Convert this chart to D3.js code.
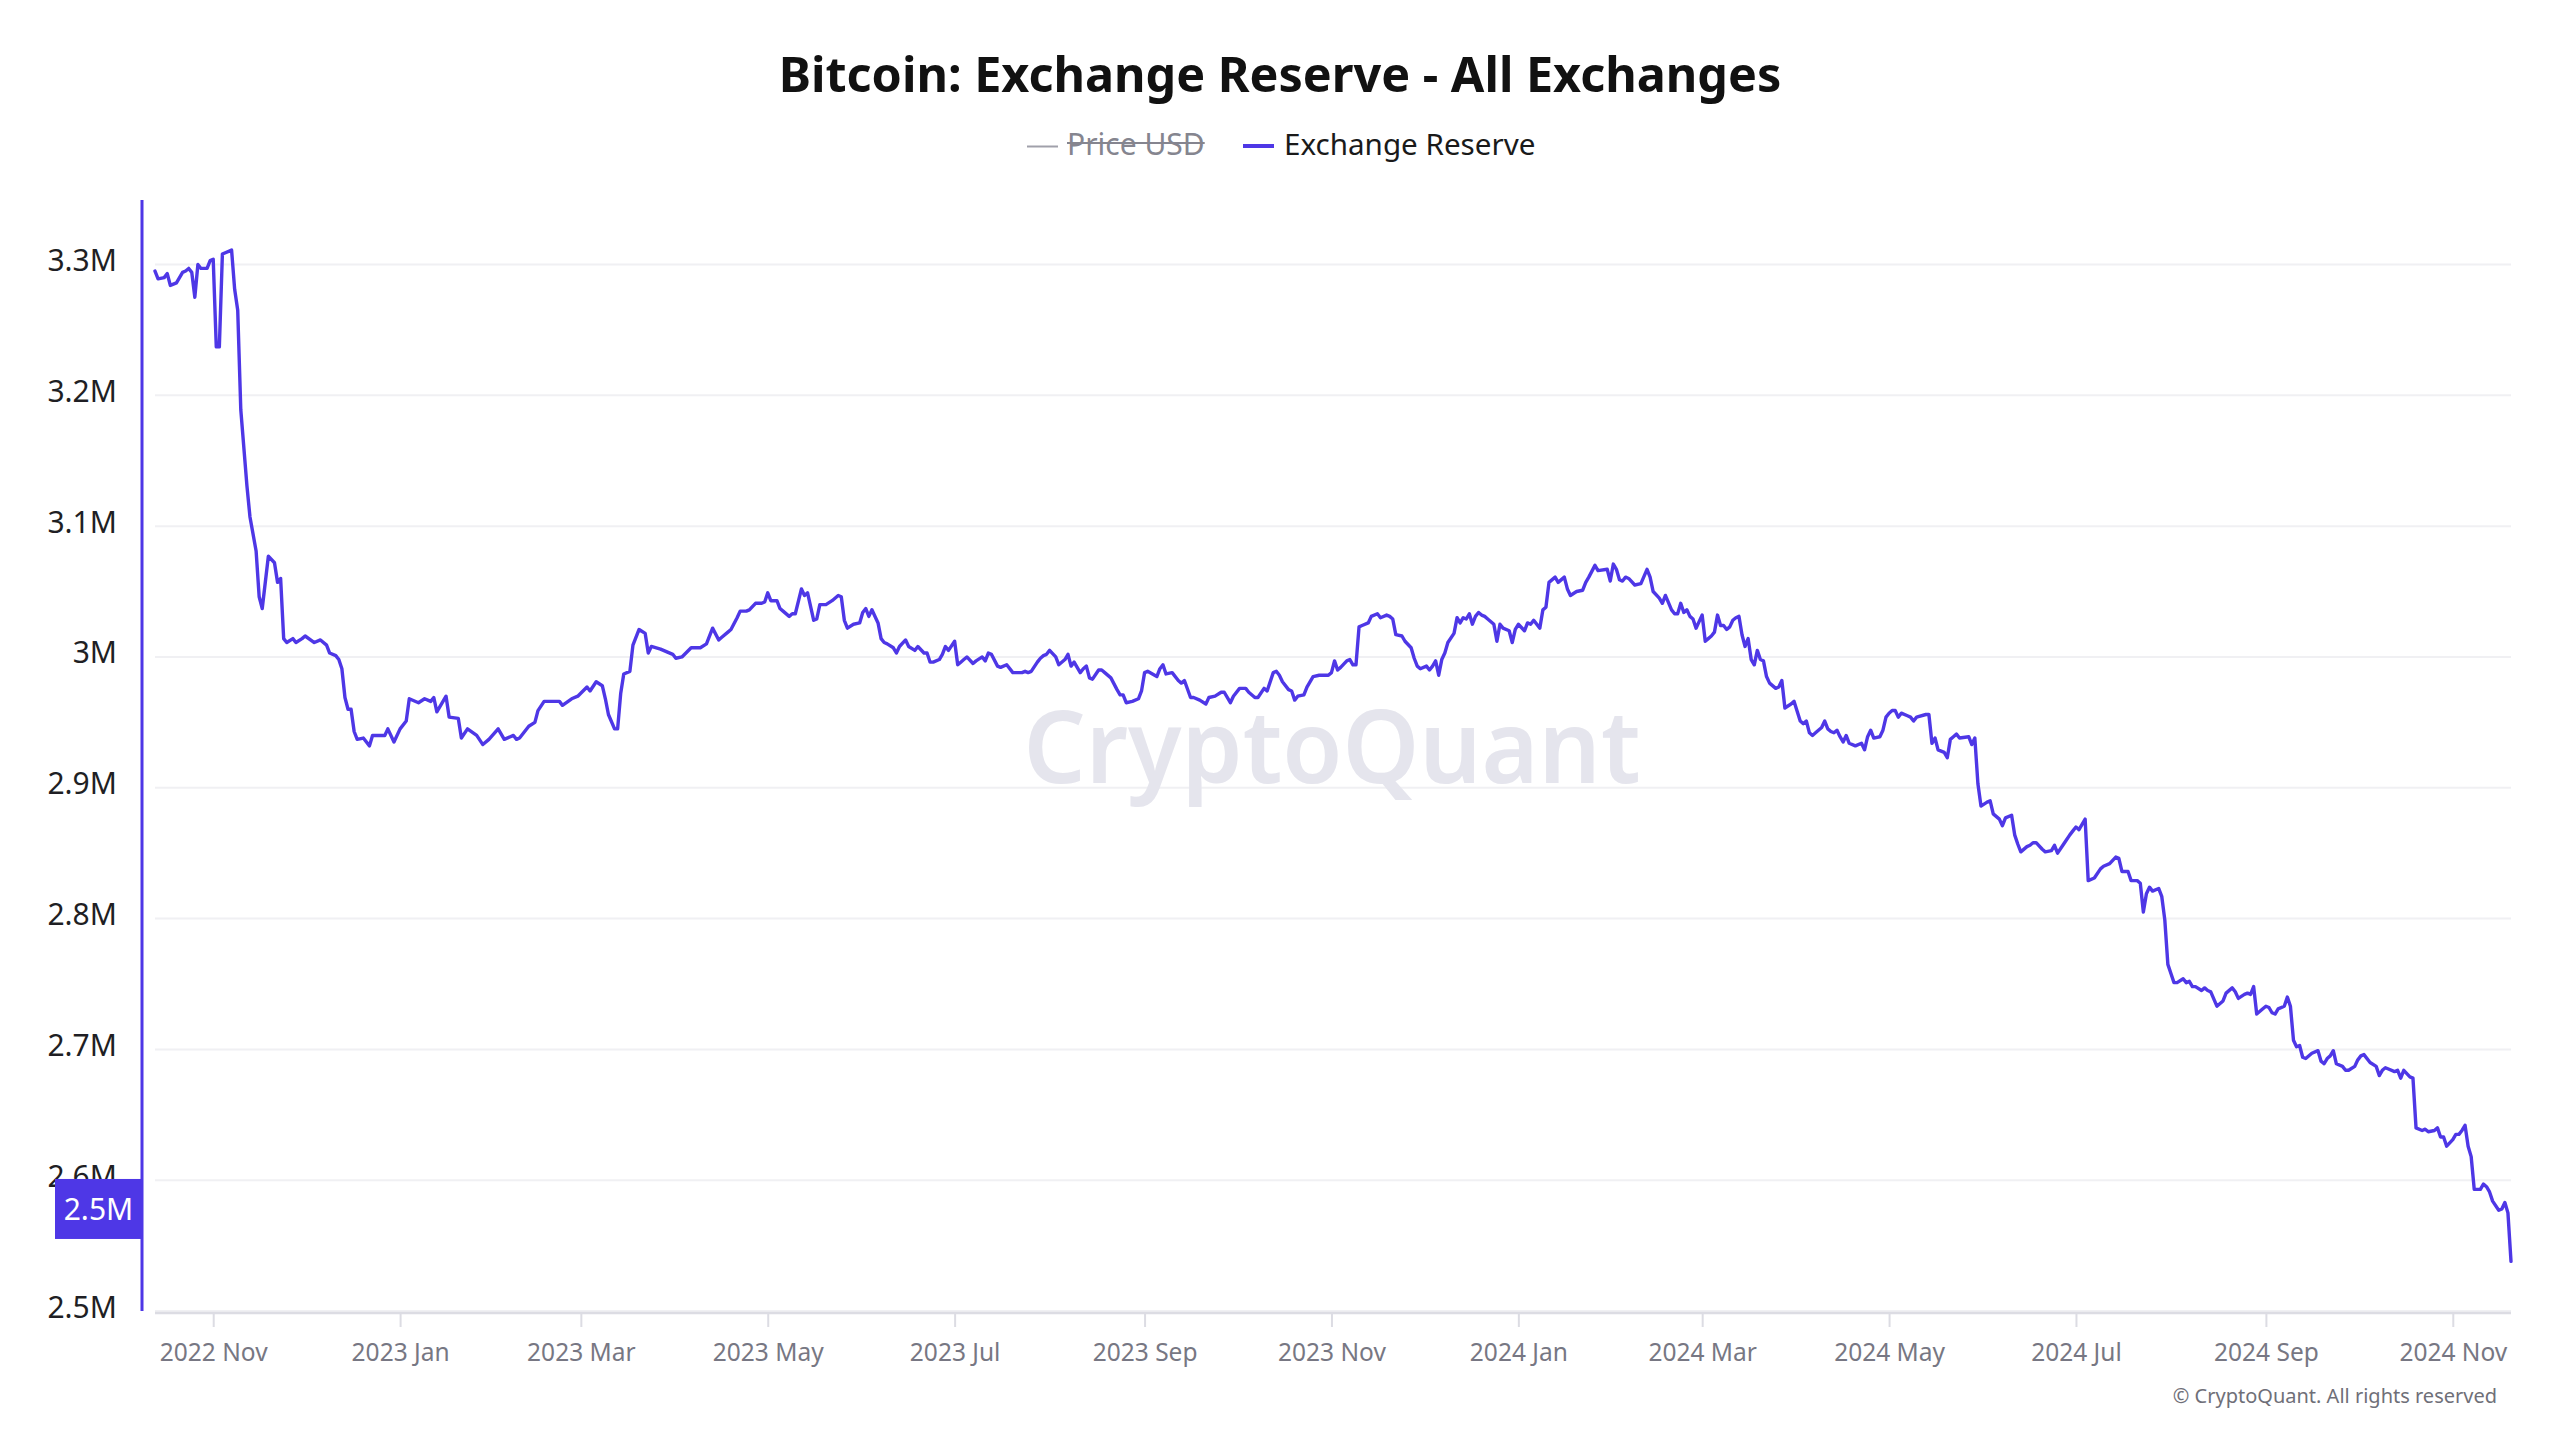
<!DOCTYPE html>
<html><head><meta charset="utf-8">
<script src="https://cdn.jsdelivr.net/npm/d3@7"></script>
<style>
html,body{margin:0;padding:0;background:#fff;}
svg{display:block;}
</style></head>
<body>
<svg id="chart" width="2560" height="1440"></svg>
<script>
// ---------------- DATA ----------------
const chartTitle = "Bitcoin: Exchange Reserve - All Exchanges";
const legendLabels = ["Price USD", "Exchange Reserve"];
const watermarkText = "CryptoQuant";
const copyrightText = "\u00A9 CryptoQuant. All rights reserved";
const yTickValues = [2.5, 2.6, 2.7, 2.8, 2.9, 3.0, 3.1, 3.2, 3.3]; // million BTC
const latestTagValue = 2.578;   // value of the price-tag on the axis (million BTC)
const latestTagText = "2.5M";

const dates = [
"2022-10-13","2022-10-14","2022-10-16","2022-10-17","2022-10-18","2022-10-20","2022-10-22","2022-10-23","2022-10-24","2022-10-25","2022-10-26","2022-10-27","2022-10-28","2022-10-30","2022-10-31",
"2022-11-01","2022-11-02","2022-11-03","2022-11-04","2022-11-07","2022-11-08","2022-11-09","2022-11-10","2022-11-12","2022-11-13","2022-11-15","2022-11-16","2022-11-17","2022-11-19","2022-11-21","2022-11-22","2022-11-23","2022-11-24","2022-11-25","2022-11-27","2022-11-28","2022-11-30",
"2022-12-01","2022-12-04","2022-12-06","2022-12-08","2022-12-09","2022-12-11","2022-12-12","2022-12-13","2022-12-14","2022-12-15","2022-12-16","2022-12-17","2022-12-18","2022-12-20","2022-12-22","2022-12-23","2022-12-27","2022-12-28","2022-12-30",
"2023-01-01","2023-01-03","2023-01-04","2023-01-07","2023-01-09","2023-01-11","2023-01-12","2023-01-13","2023-01-16","2023-01-17","2023-01-20","2023-01-21","2023-01-23","2023-01-26","2023-01-28","2023-01-30",
"2023-02-02","2023-02-04","2023-02-07","2023-02-08","2023-02-09","2023-02-12","2023-02-14","2023-02-15","2023-02-17","2023-02-19","2023-02-22","2023-02-23","2023-02-26","2023-02-28",
"2023-03-03","2023-03-04","2023-03-06","2023-03-08","2023-03-09","2023-03-10","2023-03-12","2023-03-13","2023-03-14","2023-03-15","2023-03-17","2023-03-18","2023-03-20","2023-03-22","2023-03-23","2023-03-24","2023-03-27","2023-03-31",
"2023-04-01","2023-04-03","2023-04-06","2023-04-09","2023-04-11","2023-04-13","2023-04-15","2023-04-16","2023-04-18","2023-04-19","2023-04-21","2023-04-22","2023-04-24","2023-04-25","2023-04-27","2023-04-29","2023-04-30",
"2023-05-01","2023-05-02","2023-05-04","2023-05-05","2023-05-06","2023-05-08","2023-05-09","2023-05-10","2023-05-12","2023-05-13","2023-05-14","2023-05-16","2023-05-17","2023-05-18","2023-05-20","2023-05-22","2023-05-24","2023-05-25","2023-05-26","2023-05-27","2023-05-29","2023-05-31",
"2023-06-01","2023-06-02","2023-06-03","2023-06-04","2023-06-06","2023-06-07","2023-06-08","2023-06-09","2023-06-11","2023-06-12","2023-06-13","2023-06-15","2023-06-16","2023-06-18","2023-06-19","2023-06-21","2023-06-22","2023-06-23","2023-06-24","2023-06-26","2023-06-27","2023-06-28","2023-06-29",
"2023-07-01","2023-07-02","2023-07-03","2023-07-04","2023-07-05","2023-07-07","2023-07-08","2023-07-10","2023-07-11","2023-07-12","2023-07-13","2023-07-15","2023-07-16","2023-07-18","2023-07-20","2023-07-21","2023-07-23","2023-07-24","2023-07-25","2023-07-26","2023-07-28","2023-07-29","2023-07-30","2023-07-31",
"2023-08-01","2023-08-03","2023-08-04","2023-08-06","2023-08-07","2023-08-08","2023-08-09","2023-08-11","2023-08-12","2023-08-13","2023-08-14","2023-08-15","2023-08-17","2023-08-18","2023-08-19","2023-08-21","2023-08-23","2023-08-24","2023-08-25","2023-08-26","2023-08-28","2023-08-30","2023-08-31",
"2023-09-01","2023-09-02","2023-09-05","2023-09-06","2023-09-07","2023-09-08","2023-09-10","2023-09-12","2023-09-13","2023-09-14","2023-09-16","2023-09-17","2023-09-19","2023-09-21","2023-09-22","2023-09-24","2023-09-26","2023-09-27","2023-09-29","2023-09-30",
"2023-10-02","2023-10-04","2023-10-05","2023-10-07","2023-10-08","2023-10-10","2023-10-11","2023-10-13","2023-10-14","2023-10-15","2023-10-16","2023-10-18","2023-10-19","2023-10-20","2023-10-21","2023-10-23","2023-10-24","2023-10-26","2023-10-28","2023-10-31",
"2023-11-01","2023-11-02","2023-11-03","2023-11-04","2023-11-06","2023-11-07","2023-11-08","2023-11-09","2023-11-10","2023-11-11","2023-11-13","2023-11-14","2023-11-16","2023-11-17","2023-11-19","2023-11-20","2023-11-21","2023-11-22","2023-11-24","2023-11-25","2023-11-27","2023-11-28","2023-11-29","2023-11-30",
"2023-12-02","2023-12-03","2023-12-04","2023-12-05","2023-12-06","2023-12-07","2023-12-08","2023-12-09","2023-12-11","2023-12-12","2023-12-13","2023-12-14","2023-12-15","2023-12-16","2023-12-17","2023-12-18","2023-12-19","2023-12-20","2023-12-21","2023-12-22","2023-12-24","2023-12-25","2023-12-26","2023-12-27","2023-12-29","2023-12-30","2023-12-31",
"2024-01-01","2024-01-03","2024-01-04","2024-01-05","2024-01-06","2024-01-08","2024-01-09","2024-01-10","2024-01-11","2024-01-13","2024-01-14","2024-01-16","2024-01-17","2024-01-18","2024-01-20","2024-01-22","2024-01-23","2024-01-24","2024-01-26","2024-01-27","2024-01-30","2024-01-31",
"2024-02-01","2024-02-02","2024-02-03","2024-02-04","2024-02-05","2024-02-06","2024-02-08","2024-02-10","2024-02-12","2024-02-13","2024-02-14","2024-02-16","2024-02-17","2024-02-18","2024-02-20","2024-02-21","2024-02-22","2024-02-23","2024-02-24","2024-02-25","2024-02-26","2024-02-27","2024-02-28","2024-02-29",
"2024-03-01","2024-03-02","2024-03-03","2024-03-04","2024-03-05","2024-03-06","2024-03-07","2024-03-08","2024-03-09","2024-03-10","2024-03-11","2024-03-12","2024-03-13","2024-03-14","2024-03-15","2024-03-16","2024-03-17","2024-03-18","2024-03-19","2024-03-20","2024-03-21","2024-03-22","2024-03-23","2024-03-25","2024-03-26","2024-03-27","2024-03-28","2024-03-30","2024-03-31",
"2024-04-02","2024-04-03","2024-04-04","2024-04-05","2024-04-06","2024-04-07","2024-04-09","2024-04-10","2024-04-11","2024-04-12","2024-04-13","2024-04-14","2024-04-15","2024-04-16","2024-04-17","2024-04-18","2024-04-20","2024-04-22","2024-04-23","2024-04-24","2024-04-25","2024-04-26","2024-04-28","2024-04-29","2024-04-30",
"2024-05-01","2024-05-02","2024-05-03","2024-05-04","2024-05-05","2024-05-07","2024-05-08","2024-05-09","2024-05-10","2024-05-13","2024-05-14","2024-05-15","2024-05-16","2024-05-17","2024-05-19","2024-05-20","2024-05-21","2024-05-22","2024-05-23","2024-05-24","2024-05-27","2024-05-28","2024-05-29","2024-05-30","2024-05-31",
"2024-06-02","2024-06-03","2024-06-04","2024-06-06","2024-06-07","2024-06-08","2024-06-10","2024-06-11","2024-06-12","2024-06-13","2024-06-15","2024-06-16","2024-06-17","2024-06-18","2024-06-20","2024-06-21","2024-06-23","2024-06-24","2024-06-25","2024-06-27","2024-06-29","2024-06-30",
"2024-07-01","2024-07-02","2024-07-04","2024-07-05","2024-07-07","2024-07-09","2024-07-10","2024-07-12","2024-07-14","2024-07-15","2024-07-16","2024-07-18","2024-07-19","2024-07-21","2024-07-22","2024-07-23","2024-07-24","2024-07-25","2024-07-26","2024-07-28","2024-07-29","2024-07-30","2024-07-31",
"2024-08-01","2024-08-02","2024-08-03","2024-08-05","2024-08-06","2024-08-07","2024-08-08","2024-08-09","2024-08-11","2024-08-12","2024-08-13","2024-08-14","2024-08-16","2024-08-18","2024-08-19","2024-08-21","2024-08-22","2024-08-23","2024-08-25","2024-08-26","2024-08-27","2024-08-28","2024-08-29","2024-08-31",
"2024-09-01","2024-09-02","2024-09-03","2024-09-04","2024-09-05","2024-09-07","2024-09-08","2024-09-09","2024-09-10","2024-09-11","2024-09-12","2024-09-13","2024-09-14","2024-09-16","2024-09-18","2024-09-19","2024-09-20","2024-09-21","2024-09-22","2024-09-23","2024-09-24","2024-09-26","2024-09-27","2024-09-28","2024-09-30",
"2024-10-01","2024-10-02","2024-10-03","2024-10-05","2024-10-07","2024-10-08","2024-10-09","2024-10-10","2024-10-11","2024-10-13","2024-10-14","2024-10-15","2024-10-16","2024-10-18","2024-10-19","2024-10-20","2024-10-22","2024-10-23","2024-10-24","2024-10-26","2024-10-27","2024-10-28","2024-10-29","2024-10-30",
"2024-11-01","2024-11-02","2024-11-03","2024-11-04","2024-11-05","2024-11-06","2024-11-07","2024-11-08","2024-11-10","2024-11-11","2024-11-12","2024-11-13","2024-11-14","2024-11-16","2024-11-17","2024-11-18","2024-11-19","2024-11-20"
];

// Exchange reserve, million BTC (same order as dates)
const reserve = [
3.295,3.289,3.290,3.293,3.284,3.286,3.294,3.295,3.297,3.294,3.275,3.300,3.297,3.297,3.303,
3.304,3.237,3.237,3.308,3.311,3.281,3.265,3.189,3.131,3.107,3.081,3.046,3.037,3.077,3.072,3.057,3.060,3.014,3.011,3.014,3.011,3.014,
3.016,3.011,3.013,3.009,3.003,3.001,2.998,2.991,2.969,2.960,2.960,2.943,2.937,2.938,2.932,2.940,2.940,2.945,2.935,
2.945,2.951,2.968,2.965,2.968,2.966,2.969,2.958,2.970,2.954,2.953,2.938,2.945,2.940,2.933,2.937,
2.945,2.937,2.940,2.937,2.938,2.947,2.950,2.959,2.966,2.966,2.966,2.963,2.968,2.970,
2.977,2.974,2.981,2.978,2.968,2.956,2.945,2.945,2.972,2.987,2.989,3.009,3.021,3.018,3.003,3.008,3.006,3.002,
2.999,3.000,3.007,3.007,3.010,3.022,3.013,3.015,3.019,3.021,3.030,3.035,3.035,3.036,3.041,3.041,3.042,
3.049,3.043,3.043,3.037,3.035,3.031,3.033,3.033,3.052,3.047,3.049,3.028,3.029,3.040,3.040,3.043,3.047,3.046,3.028,3.022,3.025,3.026,
3.034,3.037,3.031,3.036,3.026,3.014,3.011,3.010,3.007,3.003,3.008,3.013,3.008,3.005,3.008,3.003,3.003,2.996,2.996,2.998,3.002,3.008,3.005,
3.012,2.994,2.996,2.998,3.000,2.995,2.997,3.000,2.997,3.003,3.002,2.993,2.992,2.994,2.988,2.988,2.988,2.989,2.988,2.989,2.996,2.999,3.001,3.002,
3.005,3.000,2.994,2.998,3.002,2.993,2.996,2.988,2.991,2.993,2.984,2.983,2.990,2.990,2.988,2.984,2.975,2.971,2.971,2.965,2.966,2.968,2.974,
2.988,2.989,2.985,2.991,2.994,2.987,2.988,2.982,2.980,2.982,2.969,2.969,2.967,2.964,2.969,2.970,2.973,2.973,2.965,2.970,
2.976,2.976,2.973,2.969,2.969,2.976,2.974,2.988,2.989,2.986,2.981,2.975,2.974,2.967,2.970,2.971,2.977,2.985,2.986,2.986,
2.988,2.997,2.990,2.992,2.997,2.998,2.994,2.994,3.023,3.024,3.026,3.031,3.033,3.030,3.032,3.031,3.029,3.017,3.016,3.012,3.007,2.999,2.993,2.991,
2.993,2.990,2.993,2.997,2.986,2.998,3.003,3.011,3.018,3.030,3.026,3.030,3.029,3.033,3.025,3.031,3.034,3.032,3.031,3.029,3.025,3.012,3.025,3.022,3.020,3.011,3.021,
3.025,3.020,3.026,3.025,3.028,3.022,3.036,3.038,3.057,3.061,3.057,3.061,3.052,3.047,3.050,3.051,3.057,3.061,3.070,3.066,3.067,3.058,
3.071,3.067,3.059,3.058,3.061,3.060,3.055,3.056,3.067,3.061,3.050,3.045,3.041,3.047,3.036,3.033,3.033,3.041,3.034,3.036,3.031,3.029,3.022,3.027,
3.032,3.012,3.014,3.016,3.019,3.032,3.024,3.024,3.021,3.023,3.028,3.030,3.031,3.017,3.008,3.014,2.998,2.994,3.005,2.998,2.997,2.985,2.980,2.976,2.977,2.982,2.961,2.964,2.966,
2.951,2.949,2.951,2.942,2.940,2.942,2.946,2.951,2.945,2.943,2.942,2.944,2.939,2.935,2.940,2.934,2.932,2.934,2.929,2.939,2.944,2.938,2.939,2.944,2.954,
2.957,2.959,2.959,2.954,2.957,2.955,2.954,2.951,2.954,2.956,2.956,2.934,2.938,2.929,2.927,2.923,2.937,2.939,2.941,2.938,2.939,2.933,2.938,2.903,2.886,
2.889,2.890,2.880,2.876,2.871,2.877,2.879,2.864,2.857,2.851,2.855,2.856,2.858,2.858,2.853,2.851,2.852,2.856,2.850,2.857,2.864,2.867,
2.870,2.868,2.876,2.829,2.831,2.838,2.840,2.842,2.847,2.846,2.836,2.836,2.829,2.829,2.827,2.805,2.819,2.824,2.821,2.823,2.817,2.799,2.765,
2.758,2.751,2.751,2.754,2.751,2.752,2.748,2.748,2.745,2.747,2.745,2.744,2.733,2.737,2.743,2.747,2.744,2.739,2.742,2.743,2.742,2.748,2.727,2.731,
2.733,2.732,2.728,2.727,2.731,2.733,2.740,2.733,2.707,2.702,2.703,2.694,2.693,2.697,2.699,2.691,2.689,2.693,2.695,2.699,2.689,2.687,2.684,2.684,2.687,
2.692,2.695,2.696,2.690,2.687,2.680,2.684,2.686,2.685,2.683,2.684,2.678,2.684,2.679,2.678,2.640,2.638,2.639,2.637,2.638,2.640,2.633,2.633,2.626,
2.631,2.635,2.635,2.638,2.642,2.626,2.618,2.593,2.593,2.597,2.595,2.591,2.584,2.577,2.578,2.583,2.575,2.538
];

// ---------------- LAYOUT / STYLE ----------------
const W = 2560, H = 1440;
const plot = { left: 155, right: 2511, top: 200, bottom: 1311, axisX: 142, xAxisY: 1313 };
const lineColor = "#4e37e6";
const FONT = "'Noto Sans', 'Open Sans', sans-serif";

const svg = d3.select("#chart");
svg.append("rect").attr("width", W).attr("height", H).attr("fill", "#ffffff");

const parse = d3.utcParse("%Y-%m-%d");
const data = dates.map((d, i) => ({ date: parse(d), value: reserve[i] }));

const x = d3.scaleUtc().domain(d3.extent(data, d => d.date)).range([plot.left, plot.right]);
const y = d3.scaleLinear().domain([2.5, 3.3]).range([1311, 264.5]);

// gridlines
svg.append("g").selectAll("line").data(yTickValues).join("line")
  .attr("x1", plot.left).attr("x2", plot.right)
  .attr("y1", d => y(d)).attr("y2", d => y(d))
  .attr("stroke", "#f0f0f3").attr("stroke-width", 2);

// watermark
svg.append("text")
  .attr("x", 1332).attr("y", 783).attr("text-anchor", "middle")
  .attr("font-family", FONT).attr("font-weight", 600).attr("font-size", 102)
  .attr("fill", "#e5e5ed")
  .attr("textLength", 617).attr("lengthAdjust", "spacingAndGlyphs")
  .text(watermarkText);

// x axis
const xAxis = d3.axisBottom(x)
  .ticks(d3.utcMonth.every(2))
  .tickFormat(d3.utcFormat("%Y %b"))
  .tickSize(14).tickSizeOuter(0);
const gx = svg.append("g").attr("transform", `translate(0,${plot.xAxisY})`).call(xAxis);
gx.select(".domain").remove();
gx.selectAll(".tick line").attr("stroke", "#dcdce3").attr("stroke-width", 2);
gx.selectAll(".tick text")
  .attr("y", 48).attr("dy", 0)
  .attr("font-family", FONT).attr("font-size", 24.5).attr("fill", "#777783");
svg.append("line")
  .attr("x1", plot.left).attr("x2", plot.right)
  .attr("y1", plot.xAxisY).attr("y2", plot.xAxisY)
  .attr("stroke", "#dcdce3").attr("stroke-width", 2.5);

// y axis labels
const yAxis = d3.axisLeft(y).tickValues(yTickValues).tickSize(0)
  .tickFormat(d => d3.format("~g")(d) + "M");
const gy = svg.append("g").attr("transform", "translate(117,0)").call(yAxis);
gy.select(".domain").remove();
gy.selectAll(".tick text")
  .attr("x", 0).attr("dy", 6)
  .attr("font-family", FONT).attr("font-size", 30).attr("fill", "#1f1f24");

// y axis line (series colour)
svg.append("line")
  .attr("x1", plot.axisX).attr("x2", plot.axisX)
  .attr("y1", plot.top).attr("y2", plot.bottom)
  .attr("stroke", lineColor).attr("stroke-width", 3);

// series line
const line = d3.line().x(d => x(d.date)).y(d => y(d.value));
svg.append("path").datum(data)
  .attr("d", line).attr("fill", "none")
  .attr("stroke", lineColor).attr("stroke-width", 3.4)
  .attr("stroke-linejoin", "round").attr("stroke-linecap", "round");

// latest value tag
const ty = y(latestTagValue);
svg.append("rect").attr("x", 55).attr("y", ty - 30).attr("width", 87).attr("height", 60).attr("fill", lineColor);
svg.append("text").attr("x", 98.5).attr("y", ty + 11).attr("text-anchor", "middle")
  .attr("font-family", FONT).attr("font-size", 30).attr("fill", "#ffffff").text(latestTagText);

// title
svg.append("text").attr("x", 1280).attr("y", 92).attr("text-anchor", "middle")
  .attr("font-family", FONT).attr("font-weight", 700).attr("font-size", 48.5)
  .attr("fill", "#111111").text(chartTitle);

// legend
svg.append("line").attr("x1", 1027).attr("x2", 1058).attr("y1", 146.5).attr("y2", 146.5)
  .attr("stroke", "#a0a0aa").attr("stroke-width", 2);
const priceText = svg.append("text").attr("x", 1067).attr("y", 155)
  .attr("font-family", FONT).attr("font-size", 30).attr("fill", "#85858f").text(legendLabels[0]);
const pLen = priceText.node().getComputedTextLength();
svg.append("line").attr("x1", 1067).attr("x2", 1067 + pLen).attr("y1", 143).attr("y2", 143)
  .attr("stroke", "#85858f").attr("stroke-width", 2);
svg.append("line").attr("x1", 1243).attr("x2", 1274).attr("y1", 146).attr("y2", 146)
  .attr("stroke", lineColor).attr("stroke-width", 4);
svg.append("text").attr("x", 1284).attr("y", 155)
  .attr("font-family", FONT).attr("font-size", 29.6).attr("fill", "#1a1a1a").text(legendLabels[1]);

// copyright
svg.append("text").attr("x", 2497).attr("y", 1403).attr("text-anchor", "end")
  .attr("font-family", FONT).attr("font-size", 20).attr("fill", "#6f6f78").text(copyrightText);
</script>
</body></html>
